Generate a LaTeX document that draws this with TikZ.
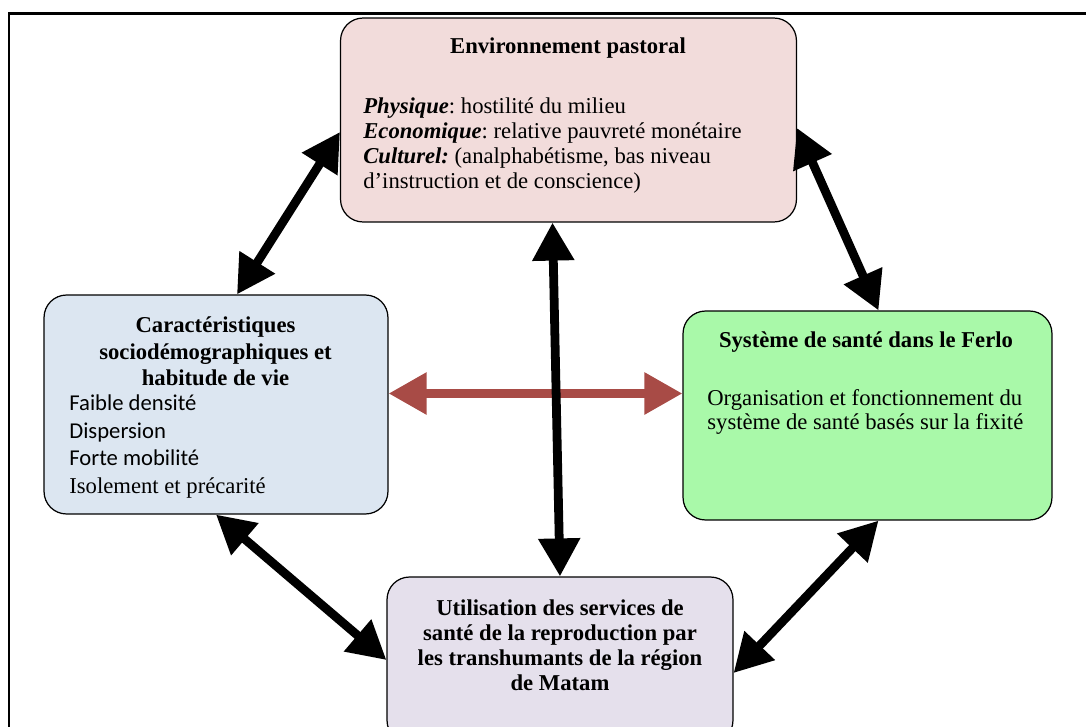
\documentclass[tikz,border=0pt]{standalone}
\usepackage{fontspec}
\setmainfont{Liberation Serif}
\newfontfamily\calibri{Carlito}
\usetikzlibrary{arrows.meta,calc}

\definecolor{pastoralfill}{HTML}{F2DCDB}
\definecolor{sociofill}{HTML}{DCE6F1}
\definecolor{santefill}{HTML}{A9F9A9}
\definecolor{usagefill}{HTML}{E5E0EC}
\definecolor{linkred}{HTML}{A84B46}

\begin{document}
\frenchspacing
\begin{tikzpicture}[
                x=0.02cm, y=-0.02cm,
                box/.style={
                    draw=black,
                    line width=0.7pt,
                    rectangle,
                    rounded corners=4.5mm,
                    inner sep=0pt
                },
                heading/.style={
                    font=\fontsize{12.9}{15}\selectfont\bfseries,
                    align=center,
                    inner sep=0pt
                },
                bodytext/.style={
                    font=\fontsize{12.9}{14.2}\selectfont,
                    align=left,
                    inner sep=0pt
                },
                link/.style={
                    line width=5pt,
                    {Triangle[length=7.6mm,width=8mm]}-{Triangle[length=7.6mm,width=8mm]}
                },
                redlink/.style={
                    link,
                    draw=linkred,
                    fill=linkred
                }
            ]
                \clip (0,0) rectangle (1086,727);
                \draw[line width=1.7pt] (9,760) -- (9,13.5) -- (1100,13.5);

                % boxes
                \node[box, fill=pastoralfill, minimum width=9.12cm, minimum height=4.08cm] (pastoral) at (568.5,120) {};
                \node[box, fill=sociofill, minimum width=6.88cm, minimum height=4.38cm] (socio) at (216,404.5) {};
                \node[box, fill=santefill, minimum width=7.38cm, minimum height=4.18cm] (sante) at (867.5,415.5) {};
                \node[box, fill=usagefill, minimum width=6.92cm, minimum height=3.32cm] (usage) at (560,660) {};

                % texts
                \node[heading] (pastoraltitle) at (568,48) {Environnement pastoral};
                \node[bodytext, anchor=west] (pastoraltext) at (363,145.5)
                    {{\bfseries\itshape Physique}: hostilité du milieu\\
                     {\bfseries\itshape Economique}: relative pauvreté monétaire\\
                     {\bfseries\itshape Culturel:} (analphabétisme, bas niveau\\
                     d’instruction et de conscience)};
                \node[heading] (sociotitle) at (215.5,351.5)
                    {Caractéristiques\\ sociodémographiques et\\ habitude de vie};
                \node[bodytext, anchor=west, font=\fontsize{12.9}{15.7}\selectfont] (sociotext) at (69,446.5)
                    {{\calibri Faible densité}\\ {\calibri Dispersion}\\ {\calibri Forte mobilité}\\ Isolement et précarité};
                \node[heading] (santetitle) at (866,342) {Système de santé dans le Ferlo};
                \node[bodytext, anchor=west, font=\fontsize{12.9}{13.6}\selectfont] (santetext) at (707,412)
                    {Organisation et fonctionnement du\\ système de santé basés sur la fixité};
                \node[heading, font=\fontsize{12.9}{14.3}\selectfont\bfseries] (usagetext) at (560,645)
                    {Utilisation des services de\\ santé de la reproduction par\\ les transhumants de la région\\ de Matam};

                % connectors
                \draw[redlink] ($(socio.east)+(0,-11)$) -- ($(sante.west)+(0,-22)$);
                \draw[link] ($(pastoral.south)+(-16,0)$) -- (usage.north);
                \draw[link] ($(pastoral.west)+(0,12)$) -- ($(socio.north)+(21,0)$);
                \draw[link] ($(pastoral.east)+(0,8)$) -- ($(sante.north)+(11,0)$);
                \draw[link] (socio.south) -- (usage.west);
                \draw[link] ($(sante.south)+(11,0)$) -- ($(usage.east)+(0,13)$);
        \end{tikzpicture}
\end{document}
